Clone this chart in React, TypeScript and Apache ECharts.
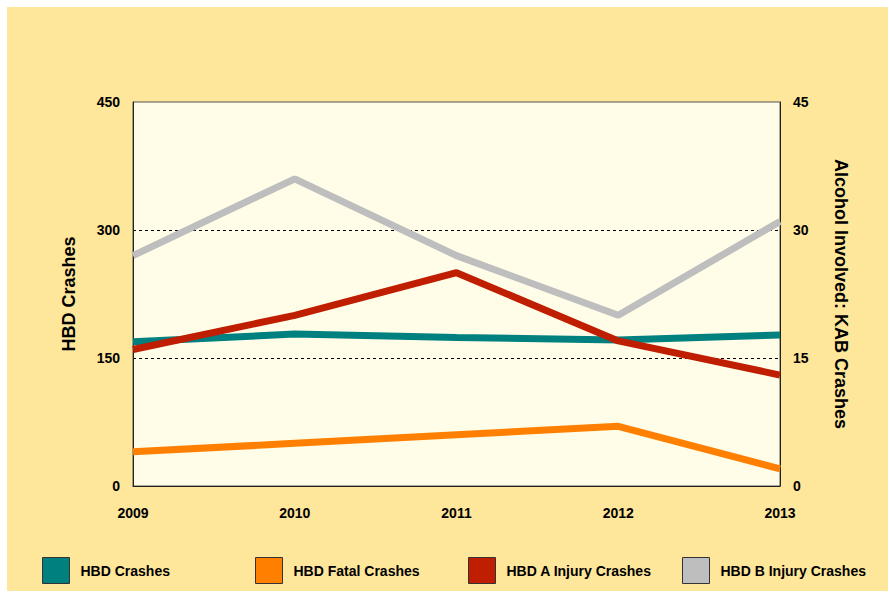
import React, { useEffect, useRef } from "react";
import * as echarts from "echarts";

const years = ["2009", "2010", "2011", "2012", "2013"];
const hbdCrashes = [169, 178, 174, 171, 177];
const hbdFatal = [4, 5, 6, 7, 2];
const hbdAInjury = [16, 20, 25, 17, 13];
const hbdBInjury = [27, 36, 27, 20, 31];

const leftTicks = { min: 0, max: 450, interval: 150 };
const rightTicks = { min: 0, max: 45, interval: 15 };

const seriesNames = ["HBD Crashes", "HBD Fatal Crashes", "HBD A Injury Crashes", "HBD B Injury Crashes"];
const seriesColors = ["#00807F", "#FF8000", "#BF1E00", "#BEBEBE"];

const FONT = "'Liberation Sans', Arial, Helvetica, sans-serif";

export default function App() {
  const ref = useRef<HTMLDivElement>(null);
  useEffect(() => {
    if (!ref.current) return;
    const chart = echarts.init(ref.current, undefined, { renderer: "svg" });
    const dataSets = [hbdCrashes, hbdFatal, hbdAInjury, hbdBInjury];
    const axisIdx = [0, 1, 1, 1];
    const legendLefts = [42, 255, 468, 682];
    chart.setOption({
      animation: false,
      backgroundColor: "#ffffff",
      textStyle: { fontFamily: FONT },
      graphic: [
        {
          type: "rect",
          z: -10,
          shape: { x: 7, y: 7, width: 881, height: 584 },
          style: { fill: "#FEE69A" },
          silent: true,
        },
      ],
      grid: {
        left: 133,
        top: 102,
        width: 647,
        height: 384,
        show: true,
        backgroundColor: "#FFFDE8",
        borderColor: "#555555",
        borderWidth: 1,
        containLabel: false,
      },
      legend: seriesNames.map((n, i) => ({
        data: [n],
        left: legendLefts[i],
        top: 557,
        padding: 0,
        icon: "rect",
        itemWidth: 27,
        itemHeight: 26,
        itemGap: 10,
        selectedMode: false,
        itemStyle: { borderColor: "#333333", borderWidth: 1 },
        textStyle: { fontFamily: FONT, fontSize: 14, fontWeight: "bold", color: "#000", padding: [0, 0, 0, 6] },
      })),
      xAxis: [
        {
          type: "category",
          data: years,
          boundaryGap: false,
          axisLine: { show: true, lineStyle: { color: "#222222" } },
          axisTick: { show: false },
          axisLabel: { fontFamily: FONT, fontSize: 14, fontWeight: "bold", color: "#000", margin: 20 },
          splitLine: { show: false },
        },
      ],
      yAxis: [
        {
          type: "value",
          ...leftTicks,
          name: "HBD Crashes",
          nameLocation: "middle",
          nameGap: 55,
          nameRotate: 90,
          nameTextStyle: { fontFamily: FONT, fontSize: 18, fontWeight: "bold", color: "#000" },
          axisLine: { show: true, lineStyle: { color: "#222222" } },
          axisTick: { show: false },
          axisLabel: { fontFamily: FONT, fontSize: 14, fontWeight: "bold", color: "#000", margin: 13 },
          splitLine: {
            show: true,
            showMinLine: false,
            showMaxLine: false,
            lineStyle: { color: "#000000", type: [3, 3], width: 1 },
          },
        },
        {
          type: "value",
          ...rightTicks,
          position: "right",
          name: "Alcohol Involved: KAB Crashes",
          nameLocation: "middle",
          nameGap: 52,
          nameRotate: -90,
          nameTextStyle: { fontFamily: FONT, fontSize: 18, fontWeight: "bold", color: "#000" },
          axisLine: { show: true, lineStyle: { color: "#222222" } },
          axisTick: { show: false },
          axisLabel: { fontFamily: FONT, fontSize: 14, fontWeight: "bold", color: "#000", margin: 13 },
          splitLine: { show: false },
        },
      ],
      series: seriesNames.map((n, i) => ({
        name: n,
        type: "line",
        yAxisIndex: axisIdx[i],
        data: dataSets[i],
        showSymbol: false,
        symbol: "none",
        color: seriesColors[i],
        lineStyle: { width: 7, color: seriesColors[i] },
        itemStyle: { color: seriesColors[i] },
        z: 2 + i,
      })),
    });
    return () => chart.dispose();
  }, []);
  return (
    <div
      ref={ref}
      style={{ position: "absolute", left: 0, top: 0, width: 889, height: 592 }}
    />
  );
}
